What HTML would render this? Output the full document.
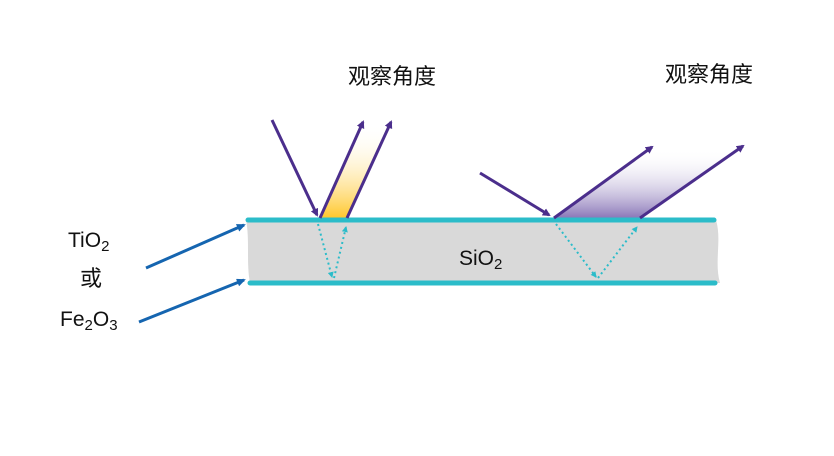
<!DOCTYPE html>
<html><head><meta charset="utf-8"><style>
html,body{margin:0;padding:0;background:#fff;}
svg{display:block;font-family:"Liberation Sans","Noto Sans CJK SC",sans-serif;}
</style></head><body>
<svg width="834" height="456" viewBox="0 0 834 456">
<defs>
<linearGradient id="gy" x1="0" y1="1" x2="0" y2="0">
<stop offset="0" stop-color="#ffc72c"/><stop offset="1" stop-color="#fff" stop-opacity="0"/></linearGradient>
<linearGradient id="gp" x1="0" y1="1" x2="0" y2="0">
<stop offset="0" stop-color="#8a77b8"/><stop offset="1" stop-color="#fff" stop-opacity="0"/></linearGradient>
<marker id="ap" markerWidth="8" markerHeight="8" refX="6" refY="4" orient="auto" markerUnits="userSpaceOnUse"><path d="M0,0 L8,4 L0,8 z" fill="#4b2e8c"/></marker>
<marker id="ab" markerWidth="9" markerHeight="8" refX="7" refY="4" orient="auto" markerUnits="userSpaceOnUse"><path d="M0,0 L9,4 L0,8 z" fill="#1565b0"/></marker>
<marker id="ac" markerWidth="6" markerHeight="6" refX="5" refY="3" orient="auto" markerUnits="userSpaceOnUse"><path d="M0,0 L6,3 L0,6 z" fill="#2bbcc9"/></marker>
</defs>
<path d="M248,220 L716,220 C722,240 714,262 720,283 L250,283 C246,262 250,240 246,220 z" fill="#d9d9d9"/>
<polygon points="320,218 362,124 390,124 347,218" fill="url(#gy)"/>
<polygon points="554,218 650,150 741,149 640,218" fill="url(#gp)"/>
<line x1="248" y1="220" x2="714" y2="220" stroke="#2bbcc9" stroke-width="5" stroke-linecap="round"/>
<line x1="250" y1="283" x2="715" y2="283" stroke="#2bbcc9" stroke-width="5" stroke-linecap="round"/>
<g stroke="#2bbcc9" stroke-width="2" stroke-dasharray="2,3" fill="none">
<polyline points="318,224 332,277" marker-end="url(#ac)"/>
<polyline points="334,278 346,227" marker-end="url(#ac)"/>
<polyline points="556,224 596,277" marker-end="url(#ac)"/>
<polyline points="598,278 637,227" marker-end="url(#ac)"/>
</g>
<g stroke="#4b2e8c" stroke-width="3" fill="none">
<line x1="272" y1="120" x2="317" y2="215" marker-end="url(#ap)"/>
<line x1="320" y1="218" x2="363" y2="122" marker-end="url(#ap)"/>
<line x1="347" y1="218" x2="391" y2="122" marker-end="url(#ap)"/>
<line x1="480" y1="173" x2="549" y2="215" marker-end="url(#ap)"/>
<line x1="554" y1="218" x2="652" y2="147" marker-end="url(#ap)"/>
<line x1="640" y1="218" x2="743" y2="146" marker-end="url(#ap)"/>
</g>
<g stroke="#1565b0" stroke-width="3">
<line x1="146" y1="268" x2="244" y2="225" marker-end="url(#ab)"/>
<line x1="139" y1="322" x2="244" y2="280" marker-end="url(#ab)"/>
</g>
<g font-size="21" fill="#111">
<text x="348" y="84" font-size="22">观察角度</text>
<text x="665" y="82" font-size="22">观察角度</text>
<text x="68" y="247">TiO<tspan font-size="15" dy="4">2</tspan></text>
<text x="80" y="286" font-size="22">或</text>
<text x="60" y="326">Fe<tspan font-size="15" dy="4">2</tspan><tspan dy="-4">O</tspan><tspan font-size="15" dy="4">3</tspan></text>
<text x="459" y="265">SiO<tspan font-size="15" dy="4">2</tspan></text>
</g>
</svg>
</body></html>
